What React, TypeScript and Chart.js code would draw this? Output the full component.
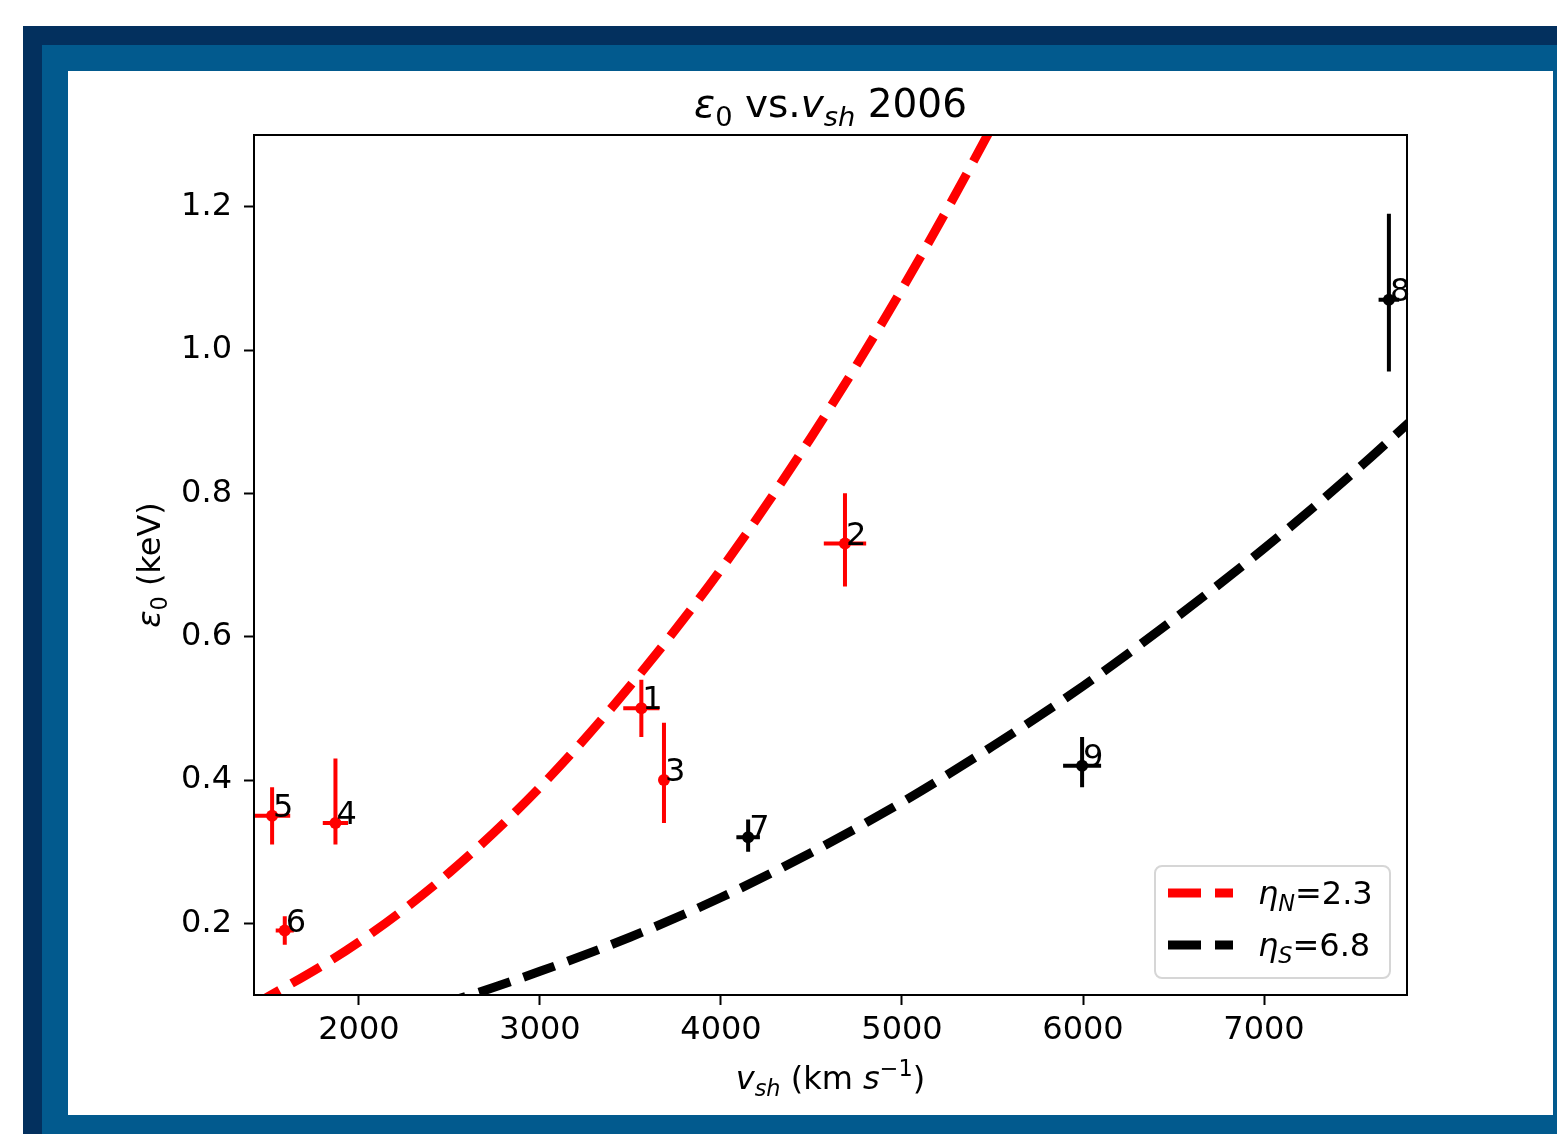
import React, { useEffect, useRef } from "react";
import { Chart, registerables } from "chart.js";

Chart.register(...registerables);

// ---- data ----
const pointLabels = ["1", "2", "3", "4", "5", "6", "7", "8", "9"];
const vsh = [3560, 4685, 3685, 1870, 1520, 1590, 4150, 7690, 5995];
const eps0 = [0.5, 0.73, 0.4, 0.34, 0.35, 0.19, 0.32, 1.07, 0.42];
const vshErr = [100, 117, 15, 70, 100, 50, 65, 57, 105];
const epsErrLow = [0.04, 0.06, 0.06, 0.03, 0.04, 0.02, 0.02, 0.1, 0.03];
const epsErrHigh = [0.04, 0.07, 0.08, 0.09, 0.04, 0.02, 0.025, 0.12, 0.04];
const pointGroup = ["N", "N", "N", "N", "N", "N", "S", "S", "S"];

const curveV = [1400, 1500, 2000, 2500, 3000, 3500, 4000, 4500, 5000, 5500, 6000, 6500, 7000, 7500, 8000];
const curveN = [0.085, 0.098, 0.174, 0.271, 0.39, 0.532, 0.694, 0.879, 1.085, 1.313, 1.56, 1.83, 2.12, 2.44, 2.77];
const curveS = [0.029, 0.033, 0.059, 0.091, 0.133, 0.181, 0.236, 0.299, 0.369, 0.447, 0.531, 0.624, 0.723, 0.83, 0.945];

const xTicks = [2000, 3000, 4000, 5000, 6000, 7000];
const yTicks = [0.2, 0.4, 0.6, 0.8, 1.0, 1.2];
const xRange = [1420, 7790];
const yRange = [0.1, 1.3];

const legendNames = [
  { sym: "η", sub: "N", rest: "=2.3", color: "#ff0000" },
  { sym: "η", sub: "S", rest: "=6.8", color: "#000000" },
];

const FONT = '"DejaVu Sans"';

type Part = { t: string; it?: boolean; sub?: boolean; sup?: boolean };

function mathWidth(ctx: CanvasRenderingContext2D, parts: Part[], size: number) {
  let w = 0;
  for (const p of parts) {
    const sz = p.sub || p.sup ? size * 0.7 : size;
    ctx.font = `${p.it ? "italic " : ""}${sz}px ${FONT}`;
    w += ctx.measureText(p.t).width;
  }
  return w;
}

function drawMath(
  ctx: CanvasRenderingContext2D,
  parts: Part[],
  x: number,
  y: number,
  size: number,
  align: "left" | "center"
) {
  const w = mathWidth(ctx, parts, size);
  let cx = align === "center" ? x - w / 2 : x;
  ctx.textAlign = "left";
  ctx.textBaseline = "alphabetic";
  for (const p of parts) {
    const sz = p.sub || p.sup ? size * 0.7 : size;
    ctx.font = `${p.it ? "italic " : ""}${sz}px ${FONT}`;
    const dy = p.sub ? size * 0.22 : p.sup ? -size * 0.42 : 0;
    ctx.fillText(p.t, cx, y + dy);
    cx += ctx.measureText(p.t).width;
  }
}

const decorPlugin = {
  id: "decor",
  afterDatasetsDraw(chart: any) {
    const ctx: CanvasRenderingContext2D = chart.ctx;
    const xs = chart.scales.x;
    const ys = chart.scales.y;
    const ca = chart.chartArea;
    ctx.save();
    ctx.beginPath();
    ctx.rect(ca.left, ca.top, ca.right - ca.left, ca.bottom - ca.top);
    ctx.clip();
    for (let i = 0; i < vsh.length; i++) {
      const col = pointGroup[i] === "N" ? "#ff0000" : "#000000";
      ctx.strokeStyle = col;
      ctx.lineWidth = 4;
      ctx.lineCap = "butt";
      const px = xs.getPixelForValue(vsh[i]);
      const py = ys.getPixelForValue(eps0[i]);
      ctx.beginPath();
      ctx.moveTo(xs.getPixelForValue(vsh[i] - vshErr[i]), py);
      ctx.lineTo(xs.getPixelForValue(vsh[i] + vshErr[i]), py);
      ctx.moveTo(px, ys.getPixelForValue(eps0[i] - epsErrLow[i]));
      ctx.lineTo(px, ys.getPixelForValue(eps0[i] + epsErrHigh[i]));
      ctx.stroke();
    }
    ctx.restore();
    ctx.save();
    ctx.fillStyle = "#000";
    ctx.font = `32px ${FONT}`;
    ctx.textAlign = "left";
    ctx.textBaseline = "alphabetic";
    for (let i = 0; i < vsh.length; i++) {
      const px = xs.getPixelForValue(vsh[i]);
      const py = ys.getPixelForValue(eps0[i]);
      ctx.fillText(pointLabels[i], px + 1, py + 1);
    }
    ctx.restore();
  },
  afterDraw(chart: any) {
    const ctx: CanvasRenderingContext2D = chart.ctx;
    const ca = chart.chartArea;
    ctx.save();
    // axes frame
    ctx.strokeStyle = "#000";
    ctx.lineWidth = 2;
    ctx.strokeRect(ca.left, ca.top, ca.right - ca.left, ca.bottom - ca.top);

    ctx.fillStyle = "#000";
    // title
    const cx = (ca.left + ca.right) / 2;
    drawMath(
      ctx,
      [
        { t: "ε", it: true },
        { t: "0", sub: true },
        { t: " vs." },
        { t: "v", it: true },
        { t: "sh", it: true, sub: true },
        { t: " 2006" },
      ],
      cx,
      46,
      39,
      "center"
    );
    // x label
    drawMath(
      ctx,
      [
        { t: "v", it: true },
        { t: "sh", it: true, sub: true },
        { t: " (km " },
        { t: "s", it: true },
        { t: "−1", sup: true },
        { t: ")" },
      ],
      cx,
      1018,
      32,
      "center"
    );
    // y label
    ctx.save();
    ctx.translate(92, (ca.top + ca.bottom) / 2);
    ctx.rotate(-Math.PI / 2);
    drawMath(ctx, [{ t: "ε", it: true }, { t: "0", sub: true }, { t: " (keV)" }], 0, 0, 32, "center");
    ctx.restore();

    // legend
    const lx = 1087,
      ly = 795,
      lw = 235,
      lh = 112,
      r = 7;
    ctx.beginPath();
    ctx.moveTo(lx + r, ly);
    ctx.arcTo(lx + lw, ly, lx + lw, ly + lh, r);
    ctx.arcTo(lx + lw, ly + lh, lx, ly + lh, r);
    ctx.arcTo(lx, ly + lh, lx, ly, r);
    ctx.arcTo(lx, ly, lx + lw, ly, r);
    ctx.closePath();
    ctx.fillStyle = "rgba(255,255,255,0.85)";
    ctx.fill();
    ctx.strokeStyle = "#d6d6d6";
    ctx.lineWidth = 2;
    ctx.stroke();
    legendNames.forEach((item, k) => {
      const yy = 822 + k * 52;
      ctx.strokeStyle = item.color;
      ctx.lineWidth = 9;
      ctx.lineCap = "butt";
      ctx.setLineDash([33, 14]);
      ctx.beginPath();
      ctx.moveTo(1100, yy);
      ctx.lineTo(1165, yy);
      ctx.stroke();
      ctx.setLineDash([]);
      ctx.fillStyle = "#000";
      drawMath(
        ctx,
        [
          { t: item.sym, it: true },
          { t: item.sub, it: true, sub: true },
          { t: item.rest },
        ],
        1190,
        yy + 11,
        32,
        "left"
      );
    });
    ctx.restore();
  },
};

export default function App() {
  const ref = useRef<HTMLCanvasElement | null>(null);
  useEffect(() => {
    document.body.style.margin = "0";
    const canvas = ref.current!;
    const chart = new Chart(canvas, {
      type: "scatter",
      data: {
        datasets: [
          {
            label: "ηN=2.3",
            data: curveV.map((v, i) => ({ x: v, y: curveN[i] })),
            showLine: true,
            borderColor: "#ff0000",
            borderWidth: 9,
            borderDash: [33, 14],
            borderCapStyle: "butt",
            pointRadius: 0,
            cubicInterpolationMode: "monotone",
            fill: false,
          } as any,
          {
            label: "ηS=6.8",
            data: curveV.map((v, i) => ({ x: v, y: curveS[i] })),
            showLine: true,
            borderColor: "#000000",
            borderWidth: 9,
            borderDash: [33, 14],
            borderCapStyle: "butt",
            pointRadius: 0,
            cubicInterpolationMode: "monotone",
            fill: false,
          } as any,
          {
            label: "N points",
            data: vsh.map((v, i) => ({ x: v, y: eps0[i] })).filter((_, i) => pointGroup[i] === "N"),
            backgroundColor: "#ff0000",
            borderColor: "#ff0000",
            pointRadius: 6,
            borderWidth: 0,
          },
          {
            label: "S points",
            data: vsh.map((v, i) => ({ x: v, y: eps0[i] })).filter((_, i) => pointGroup[i] === "S"),
            backgroundColor: "#000000",
            borderColor: "#000000",
            pointRadius: 6,
            borderWidth: 0,
          },
        ],
      },
      options: {
        responsive: false,
        animation: false,
        devicePixelRatio: 1,
        layout: { padding: { left: 0, top: 64, right: 146, bottom: 0 } },
        plugins: { legend: { display: false }, tooltip: { enabled: false }, title: { display: false } },
        scales: {
          x: {
            type: "linear",
            min: xRange[0],
            max: xRange[1],
            afterBuildTicks: (s: any) => {
              s.ticks = xTicks.map((v) => ({ value: v }));
            },
            afterFit: (s: any) => {
              s.height = 120;
            },
            border: { display: false },
            grid: { display: true, drawOnChartArea: false, drawTicks: true, tickLength: 10, tickWidth: 2, tickColor: "#000" },
            ticks: {
              color: "#000",
              font: { family: "DejaVu Sans", size: 32 },
              padding: 6,
              maxRotation: 0,
              callback: (v: any) => String(v),
            },
          },
          y: {
            type: "linear",
            min: yRange[0],
            max: yRange[1],
            afterBuildTicks: (s: any) => {
              s.ticks = yTicks.map((v) => ({ value: v }));
            },
            afterFit: (s: any) => {
              s.width = 186;
            },
            border: { display: false },
            grid: { display: true, drawOnChartArea: false, drawTicks: true, tickLength: 10, tickWidth: 2, tickColor: "#000" },
            ticks: {
              color: "#000",
              font: { family: "DejaVu Sans", size: 32 },
              padding: 12,
              callback: (v: any) => Number(v).toFixed(1),
            },
          },
        },
      } as any,
      plugins: [decorPlugin],
    });
    return () => chart.destroy();
  }, []);

  return (
    <div style={{ position: "fixed", left: 0, top: 0, width: 1557, height: 1134, background: "#fff", overflow: "hidden" }}>
      <div style={{ position: "absolute", left: 23, top: 26, width: 1600, height: 1200, background: "#03305e" }} />
      <div style={{ position: "absolute", left: 42, top: 45, width: 1600, height: 1200, background: "#025a8e" }} />
      <div style={{ position: "absolute", left: 68, top: 71, width: 1485, height: 1044, background: "#fff" }}>
        <canvas ref={ref} width={1485} height={1044} style={{ display: "block", width: 1485, height: 1044 }} />
      </div>
    </div>
  );
}
